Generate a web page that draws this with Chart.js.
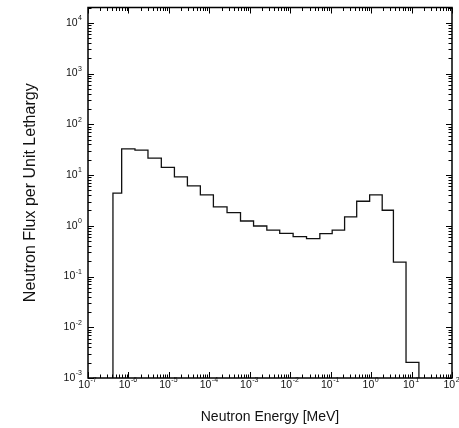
<!DOCTYPE html>
<html>
<head>
<meta charset="utf-8">
<script src="https://cdn.jsdelivr.net/npm/chart.js@4.4.1/dist/chart.umd.min.js"></script>
<style>
  html, body { margin: 0; padding: 0; background: #fff; }
  #wrap { width: 459px; height: 428px; }
</style>
</head>
<body>
<div id="wrap"><canvas id="fluxChart" width="459" height="428"></canvas></div>
<script>
// group boundaries (MeV) and flux per unit lethargy
const binEdges = [4.14e-7, 6.8e-7, 1.45e-6, 3.04e-6, 6.5e-6, 1.37e-5, 2.87e-5, 6.0e-5,
    1.26e-4, 2.74e-4, 5.9e-4, 1.24e-3, 2.64e-3, 5.5e-3, 1.18e-2, 2.53e-2, 5.4e-2,
    0.109, 0.221, 0.44, 0.92, 1.88, 3.56, 7.3, 15.2];
const fluxPerLethargy = [4.4, 32.8, 31, 21.5, 14.1, 9.2, 6.1, 4.05,
    2.35, 1.82, 1.24, 0.99, 0.82, 0.71, 0.61, 0.56, 0.70,
    0.82, 1.49, 3.04, 4.05, 2.02, 0.192, 0.00203];

const xTickExps = [-7, -6, -5, -4, -3, -2, -1, 0, 1, 2];
const yTickExps = [-3, -2, -1, 0, 1, 2, 3, 4];
const xRange = [1e-7, 1e2];
const yRange = [1e-3, 2e4];
const xTitle = "Neutron Energy [MeV]";
const yTitle = "Neutron Flux per Unit Lethargy";

const FONT = "'Liberation Sans', Arial, Helvetica, sans-serif";

// histogram outline: rise from the axis at the first edge, fall back at the last
const points = [{ x: binEdges[0], y: yRange[0] }];
fluxPerLethargy.forEach((v, i) => points.push({ x: binEdges[i], y: v }));
points.push({ x: binEdges[binEdges.length - 1], y: yRange[0] });

// draws "10" with a raised exponent; anchor is the right edge or the centre
function drawPow(ctx, e, x, y, align) {
    const base = "10", exp = String(e);
    ctx.font = "10.5px " + FONT;
    const wb = ctx.measureText(base).width;
    ctx.font = "7px " + FONT;
    const we = ctx.measureText(exp).width;
    const w = wb + 0.5 + we;
    const left = align === "right" ? x - w : x - w / 2;
    ctx.textBaseline = "middle";
    ctx.textAlign = "left";
    ctx.font = "10.5px " + FONT;
    ctx.fillText(base, left, y);
    ctx.font = "7px " + FONT;
    ctx.fillText(exp, left + wb + 0.5, y - 4.5);
}

// inward ticks on all four sides, the frame and the decade labels
const frameAndTicks = {
    id: "frameAndTicks",
    afterDatasetsDraw(chart) {
        const { ctx, chartArea: a, scales: { x, y } } = chart;
        ctx.save();
        ctx.strokeStyle = "#000";
        ctx.lineWidth = 1;
        ctx.beginPath();
        xTickExps.forEach(e => {
            for (let m = 1; m <= 9; m++) {
                const v = m * Math.pow(10, e);
                if (v > xRange[1] * 1.0001) break;
                const px = Math.round(x.getPixelForValue(v)) + 0.5;
                const len = m === 1 ? 6 : 3.5;
                ctx.moveTo(px, a.bottom); ctx.lineTo(px, a.bottom - len);
                ctx.moveTo(px, a.top); ctx.lineTo(px, a.top + len);
            }
        });
        yTickExps.forEach(e => {
            for (let m = 1; m <= 9; m++) {
                const v = m * Math.pow(10, e);
                if (v > yRange[1] * 1.0001) break;
                const py = Math.round(y.getPixelForValue(v)) + 0.5;
                const len = m === 1 ? 6 : 3.5;
                ctx.moveTo(a.left, py); ctx.lineTo(a.left + len, py);
                ctx.moveTo(a.right, py); ctx.lineTo(a.right - len, py);
            }
        });
        ctx.stroke();
        ctx.lineWidth = 1.5;
        ctx.strokeRect(a.left, a.top, a.width, a.height);

        ctx.fillStyle = "#111";
        x.ticks.forEach(t => {
            const e = Math.round(Math.log10(t.value));
            drawPow(ctx, e, x.getPixelForValue(t.value) - 0.5, a.bottom + 7, "center");
        });
        y.ticks.forEach(t => {
            const e = Math.round(Math.log10(t.value));
            drawPow(ctx, e, a.left - 6, y.getPixelForValue(t.value), "right");
        });
        ctx.restore();
    }
};

new Chart(document.getElementById("fluxChart"), {
    type: "line",
    data: {
        datasets: [{
            data: points,
            stepped: "before",
            borderColor: "#111",
            borderWidth: 1.3,
            pointRadius: 0,
            fill: false
        }]
    },
    options: {
        responsive: false,
        animation: false,
        layout: { padding: { top: 7.5, right: 7, left: 0, bottom: 0 } },
        plugins: { legend: { display: false }, tooltip: { enabled: false } },
        scales: {
            x: {
                type: "logarithmic",
                min: xRange[0],
                max: xRange[1],
                grid: { display: false, drawTicks: false },
                border: { display: false },
                afterBuildTicks: s => { s.ticks = xTickExps.map(e => ({ value: Math.pow(10, e) })); },
                afterFit: s => { s.height = 50; },
                ticks: { display: false, autoSkip: false },
                title: {
                    display: true,
                    text: xTitle,
                    color: "#111",
                    font: { family: FONT, size: 14 },
                    padding: { top: 0, bottom: 2.5 }
                }
            },
            y: {
                type: "logarithmic",
                min: yRange[0],
                max: yRange[1],
                grid: { display: false, drawTicks: false },
                border: { display: false },
                afterBuildTicks: s => { s.ticks = yTickExps.map(e => ({ value: Math.pow(10, e) })); },
                afterFit: s => { s.width = 88; },
                ticks: { display: false, autoSkip: false },
                title: {
                    display: true,
                    text: yTitle,
                    color: "#111",
                    font: { family: FONT, size: 16 },
                    padding: { top: 21, bottom: 0 }
                }
            }
        }
    },
    plugins: [frameAndTicks]
});
</script>
</body>
</html>
